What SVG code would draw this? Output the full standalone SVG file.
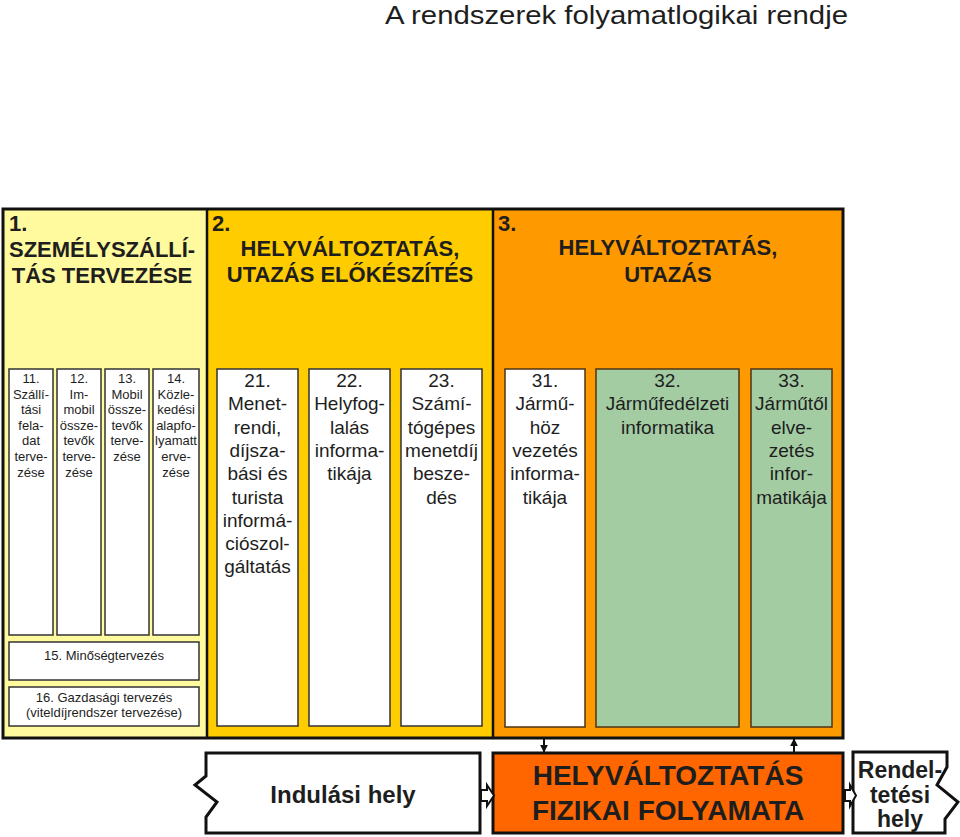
<svg xmlns="http://www.w3.org/2000/svg" width="960" height="837" viewBox="0 0 960 837">
<style>
text{font-family:"Liberation Sans",Arial,sans-serif;fill:#1e1e1e}
.hdr{font-size:22px;font-weight:bold}
.s{font-size:13px;text-anchor:middle}
.m{font-size:19px;text-anchor:middle}
.box{fill:#fff;stroke:#333;stroke-width:1.5}
.box3{fill:#fff;stroke:#4d3315;stroke-width:1.5}
.gr{fill:#a3cca3;stroke:#4d3315;stroke-width:1.5}
.big{font-weight:bold;text-anchor:middle}
.ln{stroke:#111;stroke-width:2;fill:none}
.hol{fill:#fff;stroke:#111;stroke-width:2;stroke-linejoin:miter}
</style>
<defs>
<marker id="ah" viewBox="0 0 10 10" refX="9" refY="5" markerWidth="4" markerHeight="4" orient="auto"><path d="M0,0 L10,5 L0,10 Z" fill="#111"/></marker>
</defs>
<rect width="960" height="837" fill="#fff"/>
<text x="385" y="23.5" style="font-size:25px" textLength="463" lengthAdjust="spacingAndGlyphs">A rendszerek folyamatlogikai rendje</text>

<g id="sec1">
<rect x="3" y="209" width="204" height="529" fill="#fffa9e"/>
<text class="hdr" x="9" y="231">1.</text>
<text class="hdr" x="9" y="257">SZEMÉLYSZÁLLÍ-</text>
<text class="hdr" x="102" y="283" text-anchor="middle">TÁS TERVEZÉSE</text>
</g>
<g id="sec2">
<rect x="207" y="209" width="286" height="529" fill="#ffcc00"/>
<text class="hdr" x="212" y="231">2.</text>
<text class="hdr" x="350" y="256" text-anchor="middle">HELYVÁLTOZTATÁS,</text>
<text class="hdr" x="350" y="282" text-anchor="middle">UTAZÁS ELŐKÉSZÍTÉS</text>
</g>
<g id="sec3">
<rect x="493" y="209" width="350" height="529" fill="#ff9900"/>
<text class="hdr" x="498" y="231">3.</text>
<text class="hdr" x="668" y="255" text-anchor="middle">HELYVÁLTOZTATÁS,</text>
<text class="hdr" x="668" y="282" text-anchor="middle">UTAZÁS</text>
</g>
<g id="frame" fill="none" stroke="#111">
<rect x="3" y="209" width="840" height="529" stroke-width="3"/>
<line x1="207" y1="209" x2="207" y2="738" stroke-width="2.5"/>
<line x1="493" y1="209" x2="493" y2="738" stroke-width="2.5"/>
</g>

<g id="n11"><rect class="box" x="9" y="369" width="44" height="266"/>
<text class="s" x="31" y="383"><tspan x="31">11.</tspan><tspan x="31" dy="15.6">Szállí-</tspan><tspan x="31" dy="15.6">tási</tspan><tspan x="31" dy="15.6">fela-</tspan><tspan x="31" dy="15.6">dat</tspan><tspan x="31" dy="15.6">terve-</tspan><tspan x="31" dy="15.6">zése</tspan></text></g>
<g id="n12"><rect class="box" x="57" y="369" width="44" height="266"/>
<text class="s" x="79" y="383"><tspan x="79">12.</tspan><tspan x="79" dy="15.6">Im-</tspan><tspan x="79" dy="15.6">mobil</tspan><tspan x="79" dy="15.6">össze-</tspan><tspan x="79" dy="15.6">tevők</tspan><tspan x="79" dy="15.6">terve-</tspan><tspan x="79" dy="15.6">zése</tspan></text></g>
<g id="n13"><rect class="box" x="105" y="369" width="44" height="266"/>
<text class="s" x="127" y="383"><tspan x="127">13.</tspan><tspan x="127" dy="15.6">Mobil</tspan><tspan x="127" dy="15.6">össze-</tspan><tspan x="127" dy="15.6">tevők</tspan><tspan x="127" dy="15.6">terve-</tspan><tspan x="127" dy="15.6">zése</tspan></text></g>
<g id="n14"><rect class="box" x="153" y="369" width="46" height="266"/>
<text class="s" x="176" y="383"><tspan x="176">14.</tspan><tspan x="176" dy="15.6">Közle-</tspan><tspan x="176" dy="15.6">kedési</tspan><tspan x="176" dy="15.6">alapfo-</tspan><tspan x="176" dy="15.6">lyamatt</tspan><tspan x="176" dy="15.6">erve-</tspan><tspan x="176" dy="15.6">zése</tspan></text></g>
<g id="n15"><rect class="box" x="9" y="642" width="190" height="38"/>
<text class="s" x="104" y="660">15. Minőségtervezés</text></g>
<g id="n16"><rect class="box" x="9" y="687" width="190" height="39"/>
<text class="s" x="104" y="702"><tspan x="104">16. Gazdasági tervezés</tspan><tspan x="104" dy="15">(viteldíjrendszer tervezése)</tspan></text></g>

<g id="n21"><rect class="box" x="217" y="369" width="81" height="357"/>
<text class="m" x="257.5" y="387"><tspan x="257.5">21.</tspan><tspan x="257.5" dy="23.3">Menet-</tspan><tspan x="257.5" dy="23.3">rendi,</tspan><tspan x="257.5" dy="23.3">díjsza-</tspan><tspan x="257.5" dy="23.3">bási és</tspan><tspan x="257.5" dy="23.3">turista</tspan><tspan x="257.5" dy="23.3">informá-</tspan><tspan x="257.5" dy="23.3">ciószol-</tspan><tspan x="257.5" dy="23.3">gáltatás</tspan></text></g>
<g id="n22"><rect class="box" x="309" y="369" width="81" height="357"/>
<text class="m" x="349.5" y="387"><tspan x="349.5">22.</tspan><tspan x="349.5" dy="23.3">Helyfog-</tspan><tspan x="349.5" dy="23.3">lalás</tspan><tspan x="349.5" dy="23.3">informa-</tspan><tspan x="349.5" dy="23.3">tikája</tspan></text></g>
<g id="n23"><rect class="box" x="401" y="369" width="81" height="357"/>
<text class="m" x="441.5" y="387"><tspan x="441.5">23.</tspan><tspan x="441.5" dy="23.3">Számí-</tspan><tspan x="441.5" dy="23.3">tógépes</tspan><tspan x="441.5" dy="23.3">menetdíj</tspan><tspan x="441.5" dy="23.3">besze-</tspan><tspan x="441.5" dy="23.3">dés</tspan></text></g>

<g id="n31"><rect class="box3" x="505" y="369" width="80" height="358"/>
<text class="m" x="545" y="387"><tspan x="545">31.</tspan><tspan x="545" dy="23.3">Jármű-</tspan><tspan x="545" dy="23.3">höz</tspan><tspan x="545" dy="23.3">vezetés</tspan><tspan x="545" dy="23.3">informa-</tspan><tspan x="545" dy="23.3">tikája</tspan></text></g>
<g id="n32"><rect class="gr" x="596" y="369" width="143" height="358"/>
<text class="m" x="667.5" y="387"><tspan x="667.5">32.</tspan><tspan x="667.5" dy="23.3">Járműfedélzeti</tspan><tspan x="667.5" dy="23.3">informatika</tspan></text></g>
<g id="n33"><rect class="gr" x="751" y="369" width="81" height="358"/>
<text class="m" x="791.5" y="387"><tspan x="791.5">33.</tspan><tspan x="791.5" dy="23.3">Járműtől</tspan><tspan x="791.5" dy="23.3">elve-</tspan><tspan x="791.5" dy="23.3">zetés</tspan><tspan x="791.5" dy="23.3">infor-</tspan><tspan x="791.5" dy="23.3">matikája</tspan></text></g>

<g id="start">
<path d="M206,753 L480,753 L480,833 L206,833 L206,817 L217,802 L195,785 L206,776 Z" fill="#fff" stroke="#111" stroke-width="3" stroke-linejoin="miter"/>
<text class="big" x="343" y="803" style="font-size:24px">Indulási hely</text>
</g>
<g id="physical">
<rect x="493" y="753" width="350" height="80" fill="#ff6600" stroke="#111" stroke-width="3"/>
<text class="big" x="668" y="785" style="font-size:28px">HELYVÁLTOZTATÁS</text>
<text class="big" x="668" y="820" style="font-size:28px">FIZIKAI FOLYAMATA</text>
</g>
<g id="dest">
<path d="M853,752 L947,752 L947,767 L937,785 L958,802 L945,819 L945,833 L853,833 Z" fill="#fff" stroke="#111" stroke-width="3" stroke-linejoin="miter"/>
<text class="big" style="font-size:23px"><tspan x="900" y="778">Rendel-</tspan><tspan x="900" y="803">tetési</tspan><tspan x="900" y="827">hely</tspan></text>
</g>

<g id="connectors">
<path class="hol" d="M481,790 L487,790 L487,785 L494,795.5 L487,806 L487,801 L481,801 Z"/>
<path class="hol" d="M845,790 L850,790 L850,785 L856,795.5 L850,806 L850,801 L845,801 Z"/>
<line class="ln" x1="544" y1="739" x2="544" y2="752" marker-end="url(#ah)"/>
<line class="ln" x1="794" y1="752" x2="794" y2="739" marker-end="url(#ah)"/>
</g>
</svg>
